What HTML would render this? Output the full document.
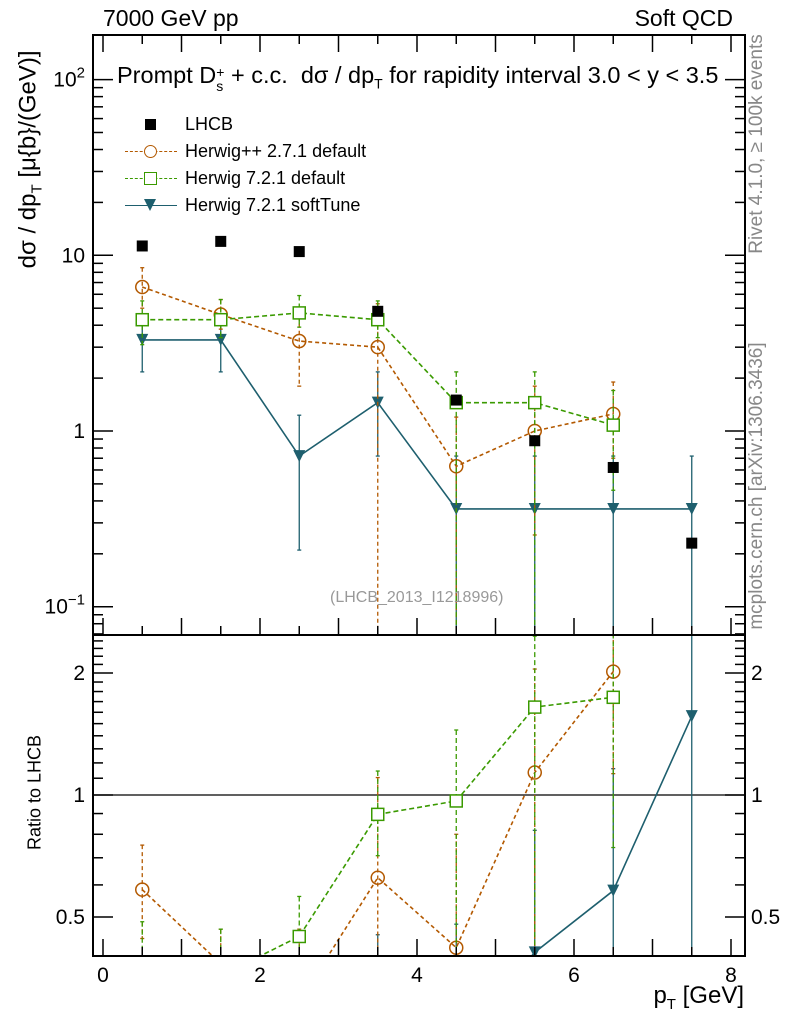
<!DOCTYPE html>
<html><head><meta charset="utf-8"><style>
html,body{margin:0;padding:0;background:#fff;width:786px;height:1024px;overflow:hidden;position:relative;}
svg{display:block;font-family:"Liberation Sans",sans-serif;position:absolute;left:0;top:0;}
</style></head><body>
<svg id="chart" width="786" height="1024" viewBox="0 0 786 1024"></svg>
<script>
const xCenters = [0.5,1.5,2.5,3.5,4.5,5.5,6.5,7.5];
const dataVals = [11.3,12.0,10.5,4.8,1.5,0.88,0.62,0.23];
const hppVals = [6.6,4.6,3.25,3.0,0.63,1.0,1.25];
const hppHi   = [8.5,5.6,4.9,5.3,1.2,1.8,1.9];
const hppLo   = [5.0,3.8,1.8,0.06,0.06,0.256,0.7];
const h7Vals  = [4.3,4.3,4.7,4.3,1.45,1.45,1.08];
const h7Hi    = [5.5,5.6,5.9,5.5,2.17,2.17,1.7];
const h7Lo    = [3.1,3.4,3.9,3.4,0.06,0.06,0.46];
const stVals  = [3.3,3.3,0.72,1.45,0.36,0.36,0.36,0.36];
const stHi    = [4.3,4.3,1.23,2.17,0.72,0.72,0.72,0.72];
const stLo    = [2.17,2.17,0.21,0.72,0.01,0.01,0.01,0.01];
const xTicks = [0,2,4,6,8];
const ratioTicks = [0.5,1,2];

const NS="http://www.w3.org/2000/svg";
const svg=document.getElementById('chart');
const L=93,R=745,T=35,MB=635,RB=956;
const X=v=>103+v*78.5;
const Y=v=>431-175.7*Math.log10(v);
const YR=r=>795-122*Math.log2(r);
function mk(tag,attrs,parent){const e=document.createElementNS(NS,tag);for(const k in attrs)e.setAttribute(k,attrs[k]);(parent||svg).appendChild(e);return e;}
function txt(s,x,y,size,anchor,parent,fill){const t=mk('text',{x:x,y:y,'font-size':size,'text-anchor':anchor||'start',fill:fill||'#000'},parent);t.textContent=s;return t;}

const defs=mk('defs',{});
const c1=mk('clipPath',{id:'cm'},defs);mk('rect',{x:L,y:T,width:R-L,height:MB-T},c1);
const c2=mk('clipPath',{id:'cr'},defs);mk('rect',{x:L,y:MB,width:R-L,height:RB-MB},c2);

const gMain=mk('g',{'clip-path':'url(#cm)'});


const gRat=mk('g',{'clip-path':'url(#cr)'});



const refl=mk('line',{x1:L,x2:R,y1:YR(1),y2:YR(1),stroke:'#000','stroke-width':1.2},gRat);



function marker(kind,x,y,color,g,name){
  let e;
  if(kind==='sq'){e=mk('rect',{x:x-6,y:y-6,width:12,height:12,fill:'#fff',stroke:color,'stroke-width':1.5},g);}
  else if(kind==='circ'){e=mk('circle',{cx:x,cy:y,r:6.5,fill:'none',stroke:color,'stroke-width':1.5},g);}
  else if(kind==='tri'){e=mk('path',{d:`M${x-6},${y-6}L${x+6},${y-6}L${x},${y+6}Z`,fill:color},g);}
  else {e=mk('rect',{x:x-5.5,y:y-5.5,width:11,height:11,fill:'#000'},g);}
  
  
}
function series(vals,hi,lo,color,dash,kind,name){
  for(const [g,yf,ratio] of [[gMain,Y,false],[gRat,YR,true]]){
    const pts=vals.map((v,i)=>[X(xCenters[i]),yf(ratio?v/dataVals[i]:v)]);
    vals.forEach((v,i)=>{
      const d=ratio?dataVals[i]:1;
      const x=X(xCenters[i]);
      const eb=mk('line',{x1:x,x2:x,y1:yf(hi[i]/d),y2:yf(lo[i]/d),stroke:color,'stroke-width':1.3,'stroke-dasharray':dash},g);
      
      
      for(const yy of [yf(hi[i]/d),yf(lo[i]/d)]){const c=mk('line',{x1:x-2,x2:x+2,y1:yy,y2:yy,stroke:color,'stroke-width':1.3},g);}
    });
    const pl=mk('polyline',{points:pts.map(p=>p.join(',')).join(' '),fill:'none',stroke:color,'stroke-width':1.6,'stroke-dasharray':dash},g);
    
    
    pts.forEach(p=>marker(kind,p[0],p[1],color,g,name+'-marker'));
  }
}
series(stVals,stHi,stLo,'#1e5f6e','none','tri','herwig721-softtune');
series(hppVals,hppHi,hppLo,'#b35900','4,3','circ','herwigpp-271');
series(h7Vals,h7Hi,h7Lo,'#3a9a00','5,3','sq','herwig721-default');
dataVals.forEach((v,i)=>marker('data',X(xCenters[i]),Y(v),'#000',gMain,'lhcb-data-point'));

const f1=mk('rect',{x:L,y:T,width:R-L,height:MB-T,fill:'none',stroke:'#000','stroke-width':2});

const f2=mk('rect',{x:L,y:MB,width:R-L,height:RB-MB,fill:'none',stroke:'#000','stroke-width':2});


const axes=mk('g',{stroke:'#000','stroke-width':1.5});

for(let v=0;v<=8.001;v+=0.5){
  const x=X(v);const len=(Math.abs(v-Math.round(v))<1e-6)?17:9;
  mk('line',{x1:x,x2:x,y1:RB,y2:RB-len},axes);
  mk('line',{x1:x,x2:x,y1:MB,y2:MB-len},axes);
  mk('line',{x1:x,x2:x,y1:T,y2:T+len},axes);
}
for(let e=-2;e<=2;e++){for(let m=1;m<10;m++){const v=m*Math.pow(10,e);const y=Y(v);if(y<T||y>MB)continue;const len=m===1?20:10;
  mk('line',{x1:L,x2:L+len,y1:y,y2:y},axes);mk('line',{x1:R,x2:R-len,y1:y,y2:y},axes);}}
for(let v=0.4;v<=2.5;v+=0.1){const y=YR(v);if(y<MB||y>RB)continue;const maj=[0.5,1,2].some(t=>Math.abs(t-v)<1e-6);const len=maj?20:10;
  mk('line',{x1:L,x2:L+len,y1:y,y2:y},axes);mk('line',{x1:R,x2:R-len,y1:y,y2:y},axes);}

xTicks.forEach(v=>{const t=txt(String(v),X(v),982,21,'middle');});
ratioTicks.forEach(v=>{const a=txt(String(v),85,YR(v)+7,21,'end');
  const b=txt(String(v),751,YR(v)+7,21,'start');});
const ml=[['10',2,Y(100)],['10',null,Y(10)],['1',null,Y(1)],['10',-1,Y(0.1)]];
ml.forEach(([b,e,y])=>{const t=mk('text',{x:85,y:y+7,'font-size':21,'text-anchor':'end'});
  t.textContent=b;if(e!==null){const s=mk('tspan',{'font-size':15,dy:-9},t);s.textContent=e===-1?'\u22121':String(e);}});
</script>
<div style="position:absolute;left:0;top:0;width:786px;height:1024px;overflow:hidden;pointer-events:none;font-family:'Liberation Sans',sans-serif;">
  <div style="position:absolute;left:103px;top:5px;font-size:23px;">7000 GeV pp</div>
  <div style="position:absolute;right:53px;top:5px;font-size:23px;">Soft QCD</div>
  <div style="position:absolute;left:117px;top:62px;font-size:23.5px;white-space:nowrap;">Prompt D<span style="display:inline-block;vertical-align:-8px;line-height:14px;font-size:14px;text-align:left;">+<br>s</span> + c.c.&nbsp; dσ / dp<sub style="font-size:14px;">T</sub> for rapidity interval 3.0 &lt; y &lt; 3.5</div>
  <div style="position:absolute;left:125px;top:111px;font-size:18px;line-height:27px;white-space:nowrap;">
    <div style="position:relative;height:27px;width:300px;"><span style="position:absolute;left:20px;top:8px;width:11px;height:11px;background:#000;"></span><span style="position:absolute;left:60px;">LHCB</span></div>
    <div style="position:relative;height:27px;width:300px;"><span style="position:absolute;left:0;top:13px;width:52px;border-top:1.6px dashed #b35900;"></span><span style="position:absolute;left:19px;top:7px;width:11px;height:11px;border:1.5px solid #b35900;border-radius:50%;background:#fff;"></span><span style="position:absolute;left:60px;">Herwig++ 2.7.1 default</span></div>
    <div style="position:relative;height:27px;width:300px;"><span style="position:absolute;left:0;top:13px;width:52px;border-top:1.6px dashed #3a9a00;"></span><span style="position:absolute;left:19px;top:7px;width:11px;height:11px;border:1.5px solid #3a9a00;background:#fff;"></span><span style="position:absolute;left:60px;">Herwig 7.2.1 default</span></div>
    <div style="position:relative;height:27px;width:300px;"><span style="position:absolute;left:0;top:13px;width:52px;border-top:1.6px solid #1e5f6e;"></span><span style="position:absolute;left:19px;top:7px;width:0;height:0;border-left:6px solid transparent;border-right:6px solid transparent;border-top:12px solid #1e5f6e;"></span><span style="position:absolute;left:60px;">Herwig 7.2.1 softTune</span></div>
  </div>
  <div style="position:absolute;left:330px;top:589px;font-size:16px;color:#999;">(LHCB_2013_I1218996)</div>
  <div style="position:absolute;right:42px;top:982px;font-size:24px;">p<sub style="font-size:15px;">T</sub> [GeV]</div>
  <div style="position:absolute;left:-130px;top:144px;width:320px;text-align:center;transform:rotate(-90deg);font-size:24px;white-space:nowrap;">dσ / dp<sub style="font-size:15px;">T</sub> [μ{b}/(GeV)]</div>
  <div style="position:absolute;left:-45px;top:782px;width:160px;text-align:center;transform:rotate(-90deg);font-size:18px;white-space:nowrap;">Ratio to LHCB</div>
  <div style="position:absolute;left:617px;top:133px;width:280px;text-align:center;transform:rotate(-90deg);font-size:19px;color:#888;white-space:nowrap;">Rivet 4.1.0, ≥ 100k events</div>
  <div style="position:absolute;left:582px;top:475px;width:350px;text-align:center;transform:rotate(-90deg);font-size:19px;color:#888;white-space:nowrap;">mcplots.cern.ch [arXiv:1306.3436]</div>
</div>
</body></html>
